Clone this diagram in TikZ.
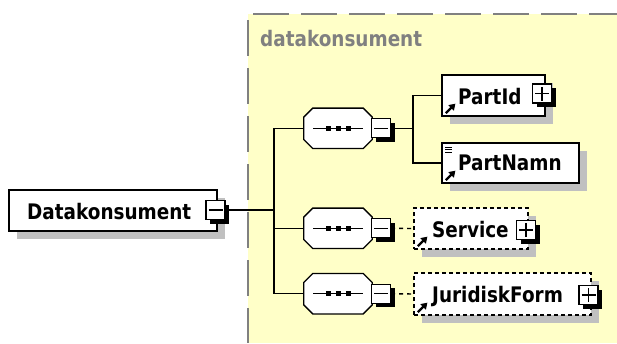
\documentclass[tikz,border=0pt]{standalone}
\usepackage{fontspec}
\setmainfont{DejaVu Sans}
\newfontfamily\diagfont[FakeStretch=0.86]{DejaVu Sans}
\usetikzlibrary{shadows,arrows.meta}
\definecolor{groupbg}{HTML}{FFFFC8}
\definecolor{groupline}{HTML}{808080}
\definecolor{shade}{HTML}{C0C0C0}
\begin{document}
\begin{tikzpicture}[x=1pt,y=-1pt,
  lbl/.style={font=\diagfont\fontsize{21.4}{24}\selectfont\bfseries, inner sep=0pt, anchor=base west},
  elem/.style={draw=black, fill=white, line width=1.3pt, minimum height=41pt, inner sep=0pt,
    drop shadow={shadow xshift=8pt, shadow yshift=-8pt, fill=shade, opacity=1}},
  optelem/.style={elem, dash pattern=on 4pt off 3pt},
  seqbox/.style={minimum width=68pt, minimum height=40pt, inner sep=0pt},
  toggle/.style={draw=black, fill=white, line width=1.3pt, minimum size=19pt, inner sep=0pt,
    drop shadow={shadow xshift=4pt, shadow yshift=-4pt, fill=black, opacity=1}},
  glyph/.style={line width=1.4pt},
  conn/.style={line width=1.4pt},
  optconn/.style={conn, dash pattern=on 4pt off 4pt},
  refarrow/.style={line width=2.4pt, -{Triangle[length=6pt,width=7.5pt]}},
]
\useasboundingbox (0,0) rectangle (617,343);

% model group area
\fill[groupbg] (248,14) rectangle (617,343);
\draw[groupline, line width=1.3pt, dash pattern=on 36pt off 12pt] (253,14) -- (617,14);
\draw[groupline, line width=1.3pt, dash pattern=on 36pt off 12pt] (248,20) -- (248,343);
\node[lbl, text=groupline] (grp) at (260,46) {datakonsument};

% root element
\node[elem, minimum width=208pt] (dk) at (113,210.5) {};
\node[lbl] (dklbl) at (27,219) {Datakonsument};
\node[toggle] (dkt) at (215.5,210) {};

% sequence compositors (octagons with chamfered corners)
\node[seqbox] (s1) at (338,128.3) {};
\node[seqbox] (s2) at (338,228.3) {};
\node[seqbox] (s3) at (338,293.7) {};
\foreach \s in {s1,s2,s3}{
  \fill[shade, xshift=8pt, yshift=-8pt]
    ([xshift=9pt]\s.north west) -- ([xshift=-9pt]\s.north east) -- ([yshift=-9pt]\s.north east)
    -- ([yshift=9pt]\s.south east) -- ([xshift=-9pt]\s.south east) -- ([xshift=9pt]\s.south west)
    -- ([yshift=9pt]\s.south west) -- ([yshift=-9pt]\s.north west) -- cycle;
  \draw[fill=white, line width=1.3pt]
    ([xshift=9pt]\s.north west) -- ([xshift=-9pt]\s.north east) -- ([yshift=-9pt]\s.north east)
    -- ([yshift=9pt]\s.south east) -- ([xshift=-9pt]\s.south east) -- ([xshift=9pt]\s.south west)
    -- ([yshift=9pt]\s.south west) -- ([yshift=-9pt]\s.north west) -- cycle;
  \draw[glyph] ([xshift=-25pt]\s.center) -- ([xshift=25pt]\s.center);
  \foreach \dx in {-10,0,10}
    \fill ([xshift=\dx pt-2.5pt, yshift=-2.5pt]\s.center) rectangle ++(5pt,5pt);
}
\node[toggle] (s1t) at (381,128.3) {};
\node[toggle] (s2t) at (381,228.3) {};
\node[toggle] (s3t) at (381,293.7) {};

% child elements
\node[elem, minimum width=103pt] (pid) at (493.5,95.5) {};
\node[lbl] (pidlbl) at (458,104) {PartId};
\node[toggle] (pidt) at (542,93.5) {};

\node[elem, minimum width=137pt, minimum height=40pt] (pnm) at (510.5,163) {};
\node[lbl] (pnmlbl) at (458,170) {PartNamn};

\node[optelem, minimum width=114pt] (svc) at (471,228.5) {};
\node[lbl] (svclbl) at (432,237) {Service};
\node[toggle] (svct) at (526,230) {};

\node[optelem, minimum width=177pt, minimum height=42pt] (jf) at (502.5,294) {};
\node[lbl] (jflbl) at (432,302) {JuridiskForm};
\node[toggle] (jft) at (588.5,295) {};

% minus / plus glyphs
\foreach \t in {dkt,s1t,s2t,s3t}
  \draw[glyph] ([xshift=-7pt]\t.center) -- ([xshift=7pt]\t.center);
\foreach \t in {pidt,svct,jft}{
  \draw[glyph] ([xshift=-7pt]\t.center) -- ([xshift=7pt]\t.center);
  \draw[glyph] ([yshift=-7pt]\t.center) -- ([yshift=7pt]\t.center);
}

% reference arrows
\foreach \e in {pid,pnm,svc,jf}
  \draw[refarrow] ([xshift=4.5pt,yshift=3.5pt]\e.south west) -- ([xshift=14pt,yshift=13pt]\e.south west);
% simple type marker
\foreach \dy in {5,7.5,10}
  \draw[line width=0.9pt] ([xshift=4pt,yshift=-\dy pt]pnm.north west) -- ([xshift=11pt,yshift=-\dy pt]pnm.north west);

% connectors
\coordinate (trunk) at (274,0);
\coordinate (branch) at (413,0);
\draw[conn] (dkt.east) -- (dkt.east -| trunk);
\draw[conn] (s1.west) -- (s1.west -| trunk) -- (s3.west -| trunk) -- (s3.west);
\draw[conn] (s2.west) -- (s2.west -| trunk);
\draw[conn] (s1t.east) -- (s1t.east -| branch);
\draw[conn] (pid.west) -- (pid.west -| branch) -- (pnm.west -| branch) -- (pnm.west);
\draw[optconn] (s2t.east) -- (svc.west);
\draw[optconn] (s3t.east) -- (jf.west);
\end{tikzpicture}
\end{document}
